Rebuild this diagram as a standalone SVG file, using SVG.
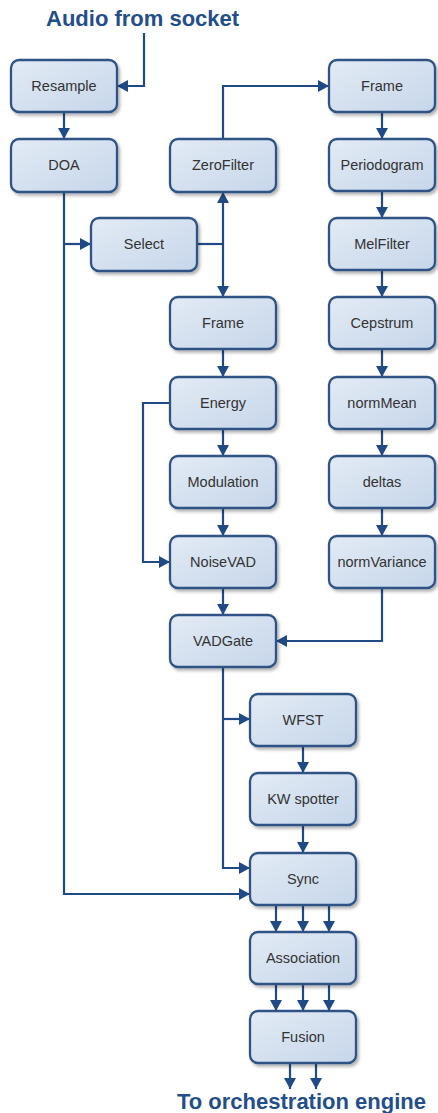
<svg xmlns="http://www.w3.org/2000/svg" width="438" height="1113" viewBox="0 0 438 1113">
<defs>
<linearGradient id="g" x1="0" y1="0" x2="1" y2="1">
<stop offset="0" stop-color="#E3EBF5"/>
<stop offset="1" stop-color="#C6D6EA"/>
</linearGradient>
<filter id="sh" x="-10%" y="-10%" width="130%" height="140%">
<feDropShadow dx="2" dy="2.5" stdDeviation="1.5" flood-color="#000" flood-opacity="0.3"/>
</filter>
<marker id="ah" markerUnits="userSpaceOnUse" markerWidth="12" markerHeight="12" refX="11" refY="6" orient="auto">
<path d="M0,0 L11,6 L0,12 Z" fill="#1F4A86"/>
</marker>
</defs>
<style>
.box{fill:url(#g);stroke:#2F5284;stroke-width:2.3;filter:url(#sh)}
.lbl{font-family:"Liberation Sans",Arial,sans-serif;font-size:14.5px;fill:#333;text-anchor:middle}
.ttl{font-family:"Liberation Sans",Arial,sans-serif;font-size:22px;font-weight:bold;fill:#234E8A}
.c{fill:none;stroke:#1F4A86;stroke-width:2.2}
.a{marker-end:url(#ah)}
</style>
<text class="ttl" x="46" y="26">Audio from socket</text>
<text class="ttl" x="177" y="1109">To orchestration engine</text>
<g id="connectors">
<path class="c a" d="M144,33 V86 H117"/>
<path class="c a" d="M64,112 V139"/>
<path class="c a" d="M64,192 V894 H250"/>
<path class="c a" d="M64,244 H91"/>
<path class="c" d="M197,244 H223"/>
<path class="c a" d="M223,244 V192"/>
<path class="c a" d="M223,244 V297"/>
<path class="c a" d="M223,139 V86 H329"/>
<path class="c a" d="M382,112 V139"/>
<path class="c a" d="M382,191 V218"/>
<path class="c a" d="M382,270 V297"/>
<path class="c a" d="M382,349 V377"/>
<path class="c a" d="M382,429 V456"/>
<path class="c a" d="M382,508 V536"/>
<path class="c a" d="M382,588 V641 H276"/>
<path class="c a" d="M223,349 V377"/>
<path class="c a" d="M223,429 V456"/>
<path class="c a" d="M223,508 V536"/>
<path class="c a" d="M223,588 V615"/>
<path class="c a" d="M170,403 H143 V562 H170"/>
<path class="c a" d="M223,667 V868 H250"/>
<path class="c a" d="M223,719 H250"/>
<path class="c a" d="M303,746 V773"/>
<path class="c a" d="M303,825 V853"/>
<path class="c a" d="M276,905 V932"/>
<path class="c a" d="M303,905 V932"/>
<path class="c a" d="M329,905 V932"/>
<path class="c a" d="M276,984 V1011"/>
<path class="c a" d="M303,984 V1011"/>
<path class="c a" d="M329,984 V1011"/>
<path class="c a" d="M290,1063 V1089"/>
<path class="c a" d="M316,1063 V1089"/>
</g>
<g id="resample"><rect class="box" x="11" y="60" width="106" height="52" rx="8"/><text class="lbl" x="64" y="91">Resample</text></g>
<g id="doa"><rect class="box" x="11" y="139" width="106" height="53" rx="8"/><text class="lbl" x="64" y="170">DOA</text></g>
<g id="select"><rect class="box" x="91" y="218" width="106" height="53" rx="8"/><text class="lbl" x="144" y="249">Select</text></g>
<g id="zerofilter"><rect class="box" x="170" y="139" width="106" height="53" rx="8"/><text class="lbl" x="223" y="170">ZeroFilter</text></g>
<g id="frame1"><rect class="box" x="170" y="297" width="106" height="52" rx="8"/><text class="lbl" x="223" y="328">Frame</text></g>
<g id="energy"><rect class="box" x="170" y="377" width="106" height="52" rx="8"/><text class="lbl" x="223" y="408">Energy</text></g>
<g id="modulation"><rect class="box" x="170" y="456" width="106" height="52" rx="8"/><text class="lbl" x="223" y="487">Modulation</text></g>
<g id="noisevad"><rect class="box" x="170" y="536" width="106" height="52" rx="8"/><text class="lbl" x="223" y="567">NoiseVAD</text></g>
<g id="vadgate"><rect class="box" x="170" y="615" width="106" height="52" rx="8"/><text class="lbl" x="223" y="646">VADGate</text></g>
<g id="frame2"><rect class="box" x="329" y="60" width="106" height="52" rx="8"/><text class="lbl" x="382" y="91">Frame</text></g>
<g id="periodogram"><rect class="box" x="329" y="139" width="106" height="52" rx="8"/><text class="lbl" x="382" y="170">Periodogram</text></g>
<g id="melfilter"><rect class="box" x="329" y="218" width="106" height="52" rx="8"/><text class="lbl" x="382" y="249">MelFilter</text></g>
<g id="cepstrum"><rect class="box" x="329" y="297" width="106" height="52" rx="8"/><text class="lbl" x="382" y="328">Cepstrum</text></g>
<g id="normmean"><rect class="box" x="329" y="377" width="106" height="52" rx="8"/><text class="lbl" x="382" y="408">normMean</text></g>
<g id="deltas"><rect class="box" x="329" y="456" width="106" height="52" rx="8"/><text class="lbl" x="382" y="487">deltas</text></g>
<g id="normvariance"><rect class="box" x="329" y="536" width="106" height="52" rx="8"/><text class="lbl" x="382" y="567">normVariance</text></g>
<g id="wfst"><rect class="box" x="250" y="694" width="106" height="52" rx="8"/><text class="lbl" x="303" y="725">WFST</text></g>
<g id="kwspotter"><rect class="box" x="250" y="773" width="106" height="52" rx="8"/><text class="lbl" x="303" y="804">KW spotter</text></g>
<g id="sync"><rect class="box" x="250" y="853" width="106" height="52" rx="8"/><text class="lbl" x="303" y="884">Sync</text></g>
<g id="association"><rect class="box" x="250" y="932" width="106" height="52" rx="8"/><text class="lbl" x="303" y="963">Association</text></g>
<g id="fusion"><rect class="box" x="250" y="1011" width="106" height="52" rx="8"/><text class="lbl" x="303" y="1042">Fusion</text></g>
</svg>
